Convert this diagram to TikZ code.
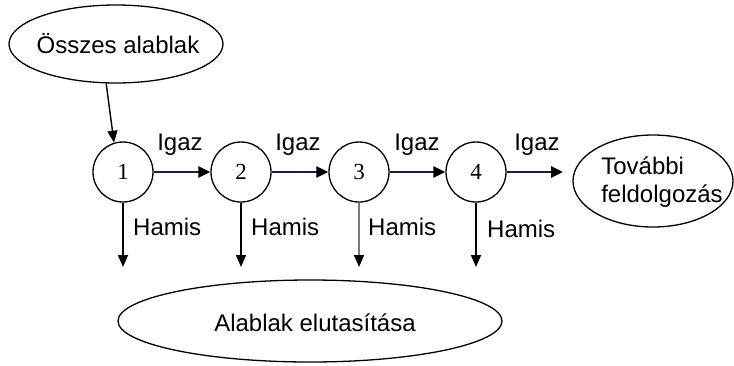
\documentclass[tikz,border=0pt]{standalone}
\usepackage{fontspec}
\setmainfont{Liberation Sans}
\newfontfamily\numfont{Liberation Serif}
\usetikzlibrary{shapes.geometric,arrows.meta}
\definecolor{navyline}{RGB}{28,28,64}
\definecolor{grayline}{RGB}{120,120,120}
\tikzset{
  oval/.style={ellipse,draw=black,line width=1.3pt,inner sep=0pt},
  stepcirc/.style={circle,draw=black,line width=1.3pt,minimum size=60pt,inner sep=0pt,font=\numfont\fontsize{23}{23}\selectfont},
  yesarrow/.style={draw=navyline,line width=2.8pt,-{Triangle[length=12pt,width=11pt,color=black]}},
  noarrow/.style={draw=black,line width=1.6pt,-{Triangle[length=12pt,width=10pt,color=black]}},
  lbl/.style={font=\fontsize{24}{28}\selectfont,inner sep=0pt}
}
\begin{document}
\begin{tikzpicture}[x=1pt,y=-1pt]
\useasboundingbox (0,0) rectangle (734,365);
\node[oval,minimum width=214pt,minimum height=78pt] (all) at (116,44) {};
\node[lbl] (allt) at (118,44) {Összes alablak};
\node[stepcirc] (c1) at (123,172) {1};
\node[stepcirc] (c2) at (241,172) {2};
\node[stepcirc] (c3) at (359,172) {3};
\node[stepcirc] (c4) at (476,172) {4};
\node[oval,minimum width=160pt,minimum height=92pt] (tov) at (653,181) {};
\node[lbl,align=left] (tovt) at (662,182) {További\\feldolgozás};
\node[oval,minimum width=384pt,minimum height=82pt] (rej) at (310,321) {};
\node[lbl] (rejt) at (315,323) {Alablak elutasítása};
\coordinate (t4) at (563,172);
\coordinate (h1) at (123,267);
\coordinate (h2) at (241,267);
\coordinate (h3) at (359,267);
\coordinate (h4) at (476,267);
\draw[noarrow,line width=1.4pt] (all.-104) -- (c1.107);
\draw[yesarrow] (c1.east) -- (c2.west);
\draw[yesarrow] (c2.east) -- (c3.west);
\draw[yesarrow] (c3.east) -- (c4.west);
\draw[yesarrow] (c4.east) -- (t4);
\draw[noarrow] (c1.south) -- (h1);
\draw[noarrow] (c2.south) -- (h2);
\draw[noarrow,draw=grayline] (c3.south) -- (h3);
\draw[noarrow] (c4.south) -- (h4);
\node[lbl,anchor=base] (i1) at (180,150) {Igaz};
\node[lbl,anchor=base] (i2) at (298,150) {Igaz};
\node[lbl,anchor=base] (i3) at (417,150) {Igaz};
\node[lbl,anchor=base] (i4) at (537,150) {Igaz};
\node[lbl,anchor=base west] (f1) at (133,235) {Hamis};
\node[lbl,anchor=base west] (f2) at (251,235) {Hamis};
\node[lbl,anchor=base west] (f3) at (368,235) {Hamis};
\node[lbl,anchor=base west] (f4) at (487,237) {Hamis};
\end{tikzpicture}
\end{document}
